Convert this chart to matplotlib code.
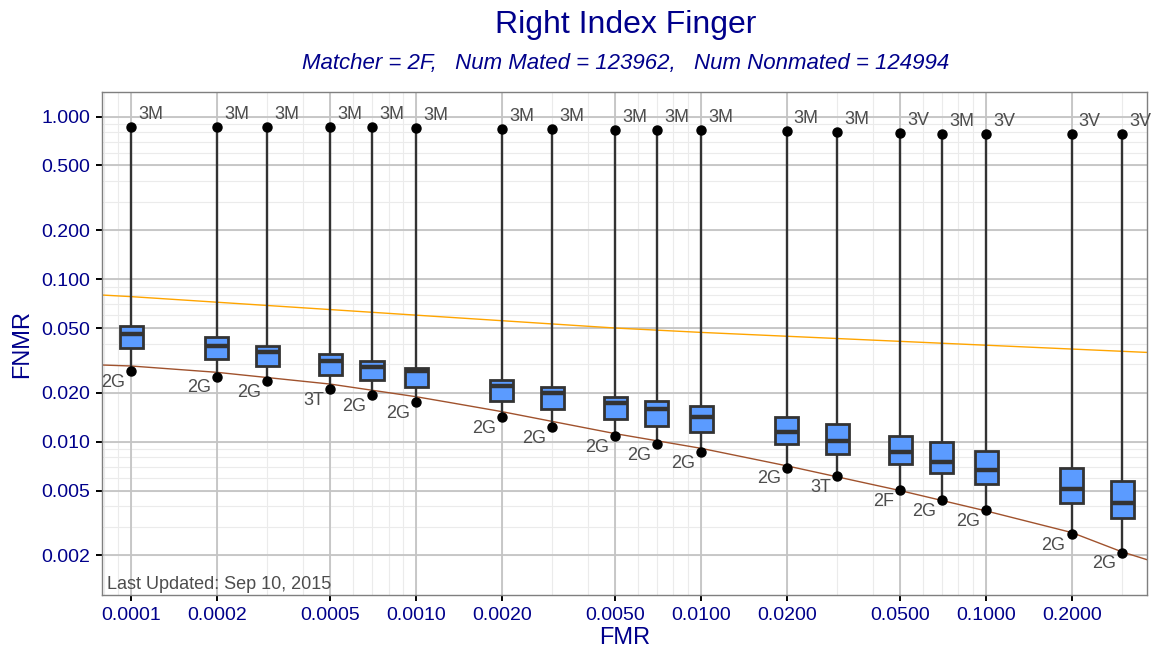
import matplotlib
matplotlib.use("Agg")
import matplotlib.pyplot as plt
from matplotlib.patches import Rectangle
from matplotlib.ticker import FixedLocator, FixedFormatter, NullFormatter
import numpy as np

# ---- data ----
fmr = [0.0001, 0.0002, 0.0003, 0.0005, 0.0007, 0.001, 0.002, 0.003, 0.005,
       0.007, 0.01, 0.02, 0.03, 0.05, 0.07, 0.1, 0.2, 0.3]
q1 = [0.0375, 0.0323, 0.0291, 0.0258, 0.0239, 0.0216, 0.0178, 0.0159, 0.0138,
      0.0125, 0.0114, 0.00965, 0.00838, 0.00730, 0.00643, 0.00548, 0.00422, 0.00340]
median = [0.0459, 0.0389, 0.0357, 0.0314, 0.0289, 0.0273, 0.0220, 0.0200, 0.0173,
          0.0159, 0.0142, 0.0114, 0.0101, 0.00858, 0.00755, 0.00668, 0.00508, 0.00418]
q3 = [0.0514, 0.0438, 0.0389, 0.0344, 0.0313, 0.0285, 0.0239, 0.0218, 0.0189,
      0.0178, 0.0165, 0.0142, 0.0128, 0.0108, 0.00989, 0.00874, 0.00690, 0.00569]
fnmr_min = [0.0273, 0.0251, 0.0237, 0.0211, 0.0194, 0.0176, 0.0141, 0.0123, 0.01086,
            0.00969, 0.00865, 0.00693, 0.00616, 0.00505, 0.00438, 0.00380, 0.00271, 0.00208]
fnmr_max = [0.856, 0.856, 0.856, 0.856, 0.856, 0.848, 0.841, 0.841, 0.829,
            0.829, 0.829, 0.818, 0.806, 0.794, 0.783, 0.783, 0.783, 0.783]
min_labels = ['2G', '2G', '2G', '3T', '2G', '2G', '2G', '2G', '2G',
              '2G', '2G', '2G', '3T', '2F', '2G', '2G', '2G', '2G']
max_labels = ['3M', '3M', '3M', '3M', '3M', '3M', '3M', '3M', '3M',
              '3M', '3M', '3M', '3M', '3V', '3M', '3V', '3V', '3V']

orange_fmr = [8e-5, 1e-4, 1e-3, 5e-3, 1e-2, 0.1, 0.367]
orange_fnmr = [0.0797, 0.0780, 0.0600, 0.0500, 0.0470, 0.0392, 0.0354]

brown_fmr = [8e-5, 1e-4, 2e-4, 5e-4, 1e-3, 1.315e-3, 2e-3, 5e-3, 1e-2, 2e-2,
             5e-2, 0.1, 0.2, 0.3, 0.367]
brown_fnmr = [0.0296, 0.0292, 0.0267, 0.0226, 0.0189, 0.0174, 0.0153, 0.0112,
              0.0091, 0.0071, 0.0050, 0.00375, 0.00276, 0.00210, 0.00188]

x_ticks = [0.0001, 0.0002, 0.0005, 0.001, 0.002, 0.005, 0.01, 0.02, 0.05, 0.1, 0.2]
x_ticklabels = ['0.0001', '0.0002', '0.0005', '0.0010', '0.0020', '0.0050',
                '0.0100', '0.0200', '0.0500', '0.1000', '0.2000']
y_ticks = [1.0, 0.5, 0.2, 0.1, 0.05, 0.02, 0.01, 0.005, 0.002]
y_ticklabels = ['1.000', '0.500', '0.200', '0.100', '0.050', '0.020', '0.010',
                '0.005', '0.002']

title = 'Right Index Finger'
subtitle = 'Matcher = 2F,   Num Mated = 123962,   Num Nonmated = 124994'
note = 'Last Updated: Sep 10, 2015'

# ---- style ----
plt.rcParams['font.family'] = ['Liberation Sans', 'DejaVu Sans']
navy = '#00008B'
box_fill = '#5B9BFF'
dark = '#333333'

fig = plt.figure(figsize=(11.52, 6.55), dpi=100)
ax = fig.add_axes([102 / 1152, 60 / 655, 1045 / 1152, 503 / 655])
ax.set_xscale('log')
ax.set_yscale('log')
ax.set_xlim(7.9e-5, 0.3671)
ax.set_ylim(0.00114, 1.415)

# grid
minor_x = [m * 10.0 ** e for e in range(-5, 0) for m in range(1, 10)]
minor_y = [m * 10.0 ** e for e in range(-3, 1) for m in range(1, 10)]
for v in minor_x:
    ax.axvline(v, color='#EBEBEB', lw=0.8, zorder=0)
for v in minor_y:
    ax.axhline(v, color='#EBEBEB', lw=0.8, zorder=0)
for v in x_ticks:
    ax.axvline(v, color='#C4C4C4', lw=1.3, zorder=0.5)
for v in y_ticks:
    ax.axhline(v, color='#C4C4C4', lw=1.3, zorder=0.5)

# reference curves
ax.plot(orange_fmr, orange_fnmr, color='#FFA500', lw=1.0, zorder=1)
ax.plot(brown_fmr, brown_fnmr, color='#A0522D', lw=1.0, zorder=1)

# box plots drawn in log space
hw = 10 ** 0.0404
for i, f in enumerate(fmr):
    ax.plot([f, f], [fnmr_min[i], fnmr_max[i]], color=dark, lw=1.7, zorder=2,
            solid_capstyle='butt')
    ax.add_patch(Rectangle((f / hw, q1[i]), f * hw - f / hw, q3[i] - q1[i],
                           facecolor=box_fill, edgecolor=dark, lw=2.0, zorder=3))
    ax.plot([f / hw, f * hw], [median[i], median[i]], color=dark, lw=3.2,
            zorder=4, solid_capstyle='butt')
    ax.plot([f, f], [fnmr_min[i], fnmr_max[i]], 'o', color='black', ms=6.5,
            zorder=5, linestyle='none')
    ax.annotate(max_labels[i], (f, fnmr_max[i]), xytext=(5, 3),
                textcoords='offset points', ha='left', va='bottom',
                fontsize=13, color='#4D4D4D', zorder=6, annotation_clip=False)
    ax.annotate(min_labels[i], (f, fnmr_min[i]), xytext=(-4.5, -2),
                textcoords='offset points', ha='right', va='top',
                fontsize=13, color='#4D4D4D', zorder=6, clip_on=True)

ax.text(0.005, 0.004, note, transform=ax.transAxes, ha='left', va='bottom',
        fontsize=13, color='#4D4D4D')

# axes & ticks
ax.xaxis.set_major_locator(FixedLocator(x_ticks))
ax.xaxis.set_major_formatter(FixedFormatter(x_ticklabels))
ax.xaxis.set_minor_formatter(NullFormatter())
ax.yaxis.set_major_locator(FixedLocator(y_ticks))
ax.yaxis.set_major_formatter(FixedFormatter(y_ticklabels))
ax.yaxis.set_minor_formatter(NullFormatter())
ax.tick_params(which='minor', length=0)
ax.tick_params(which='major', length=4, width=1.4, color='black',
               labelsize=14, labelcolor=navy, pad=4.5)
for s in ax.spines.values():
    s.set_color('#7F7F7F')
    s.set_linewidth(1.0)

ax.set_xlabel('FMR', fontsize=17, color=navy, labelpad=2)
ax.set_ylabel('FNMR', fontsize=17, color=navy, labelpad=6)

fig.text(0.5 + 50 / 1152, 1 - 25 / 655, title, ha='center', va='center',
         fontsize=23, color=navy)
fig.text(0.5 + 50 / 1152, 1 - 63 / 655, subtitle, ha='center', va='center',
         fontsize=16, color=navy, style='italic')

fig.savefig('out.png', dpi=100)
